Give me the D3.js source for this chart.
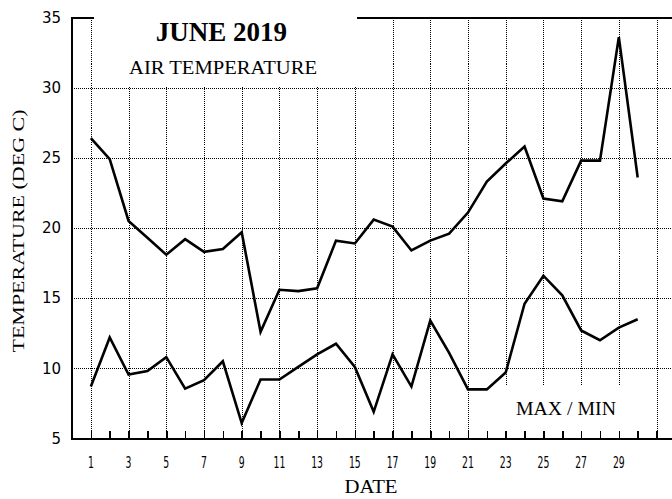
<!DOCTYPE html>
<html>
<head>
<meta charset="utf-8">
<script src="https://cdn.jsdelivr.net/npm/d3@7"></script>
<style>
  html, body { margin: 0; padding: 0; background: #fff; }
  svg { display: block; }
</style>
</head>
<body>
<svg id="chart" width="672" height="499"></svg>
<script>
// Daily air temperature, June 2019
const days = d3.range(1, 31);
const maxTemps = [26.4, 24.9, 20.5, 19.3, 18.1, 19.2, 18.3, 18.5, 19.7, 12.6,
                  15.6, 15.5, 15.7, 19.1, 18.9, 20.6, 20.1, 18.4, 19.1, 19.6,
                  21.1, 23.3, 24.6, 25.8, 22.1, 21.9, 24.8, 24.8, 33.6, 23.6];
const minTemps = [8.7, 12.2, 9.55, 9.8, 10.8, 8.55, 9.15, 10.5, 6.1, 9.2,
                  9.2, 10.1, 11.0, 11.75, 10.1, 6.9, 11.0, 8.7, 13.4, 11.1,
                  8.5, 8.5, 9.7, 14.6, 16.6, 15.2, 12.7, 12.0, 12.9, 13.5];
const yTicks = [5, 10, 15, 20, 25, 30, 35];
const xLabelDays = d3.range(1, 30, 2);
const gridDays = d3.range(1, 32, 2);
const gridTemps = [10, 15, 20, 25, 30];

const svg = d3.select("#chart");
const x = d3.scaleLinear().domain([0, 32]).range([72, 675.4]);
const y = d3.scaleLinear().domain([5, 35]).range([438.5, 17.5]);
const dot = "1,1";
const serif = "'Liberation Serif', 'Times New Roman', serif";

// dotted grid
const grid = svg.append("g").attr("stroke", "#000").attr("stroke-width", 1)
  .attr("stroke-dasharray", dot).attr("shape-rendering", "crispEdges");
grid.selectAll("line.v").data(gridDays).join("line").attr("class", "v")
  .attr("x1", d => Math.round(x(d)) + 0.5).attr("x2", d => Math.round(x(d)) + 0.5)
  .attr("y1", y(35)).attr("y2", y(5));
grid.selectAll("line.h").data(gridTemps).join("line").attr("class", "h")
  .attr("x1", x(0)).attr("x2", 672)
  .attr("y1", d => Math.round(y(d)) + 0.5).attr("y2", d => Math.round(y(d)) + 0.5);

// frame: left, top, bottom
const frame = svg.append("g").attr("stroke", "#000").attr("stroke-width", 2)
  .attr("shape-rendering", "crispEdges").attr("fill", "none");
frame.append("line").attr("x1", x(0)).attr("x2", x(0)).attr("y1", y(35)).attr("y2", y(5) + 1);
frame.append("line").attr("x1", x(0) - 1).attr("x2", 672).attr("y1", y(35)).attr("y2", y(35));
frame.append("line").attr("x1", x(0) - 1).attr("x2", 672).attr("y1", y(5)).attr("y2", y(5));

// white panels behind the titles and the series label
svg.append("rect").attr("x", 94).attr("y", 10).attr("width", 263).attr("height", 77).attr("fill", "#fff");
svg.append("rect").attr("x", 482).attr("y", 386).attr("width", 160).attr("height", 50).attr("fill", "#fff");

// bottom axis with a tick for every day
const xAxis = d3.axisBottom(x).tickValues(d3.range(1, 32)).tickSize(-8).tickFormat("");
const xa = svg.append("g").attr("transform", `translate(0,${y(5)})`).call(xAxis);
xa.select(".domain").remove();
xa.selectAll(".tick line").attr("stroke", "#000").attr("stroke-width", 1.5)
  .attr("shape-rendering", "crispEdges");

// day labels (narrow digits)
svg.append("g").selectAll("text").data(xLabelDays).join("text")
  .attr("x", d => x(d)).attr("y", 468)
  .attr("text-anchor", "middle")
  .attr("font-family", "'DejaVu Sans', sans-serif")
  .attr("font-size", 15)
  .attr("transform", d => `translate(${x(d)},0) scale(0.62,1) translate(${-x(d)},0)`)
  .text(d => d);

// temperature labels
const yAxis = d3.axisLeft(y).tickValues(yTicks).tickSize(0).tickPadding(11);
const ya = svg.append("g").attr("transform", `translate(${x(0)},0)`).call(yAxis);
ya.select(".domain").remove();
ya.selectAll(".tick text").attr("font-family", "'DejaVu Sans', sans-serif")
  .attr("font-size", 15).attr("fill", "#000");

// series lines
const line = d3.line().x((d, i) => x(days[i])).y(d => y(d));
svg.append("path").datum(maxTemps).attr("d", line)
  .attr("fill", "none").attr("stroke", "#000").attr("stroke-width", 2.6).attr("stroke-linejoin", "miter");
svg.append("path").datum(minTemps).attr("d", line)
  .attr("fill", "none").attr("stroke", "#000").attr("stroke-width", 2.6).attr("stroke-linejoin", "miter");

// titles
svg.append("text").attr("x", 221.5).attr("y", 41).attr("text-anchor", "middle")
  .attr("font-family", serif).attr("font-weight", "bold").attr("font-size", 27)
  .text("JUNE 2019");
svg.append("text").attr("x", 223).attr("y", 74).attr("text-anchor", "middle")
  .attr("font-family", serif).attr("font-size", 19).attr("textLength", 188)
  .attr("lengthAdjust", "spacingAndGlyphs")
  .text("AIR TEMPERATURE");
svg.append("text").attr("x", 566).attr("y", 415).attr("text-anchor", "middle")
  .attr("font-family", serif).attr("font-size", 19).attr("textLength", 100)
  .attr("lengthAdjust", "spacingAndGlyphs")
  .text("MAX / MIN");

// axis titles
svg.append("text").attr("x", 371).attr("y", 493).attr("text-anchor", "middle")
  .attr("font-family", serif).attr("font-size", 19).attr("textLength", 53)
  .attr("lengthAdjust", "spacingAndGlyphs")
  .text("DATE");
svg.append("text").attr("transform", "translate(24,231) rotate(-90)")
  .attr("text-anchor", "middle")
  .attr("font-family", serif).attr("font-size", 17).attr("textLength", 243)
  .attr("lengthAdjust", "spacingAndGlyphs")
  .text("TEMPERATURE (DEG C)");
</script>
</body>
</html>
